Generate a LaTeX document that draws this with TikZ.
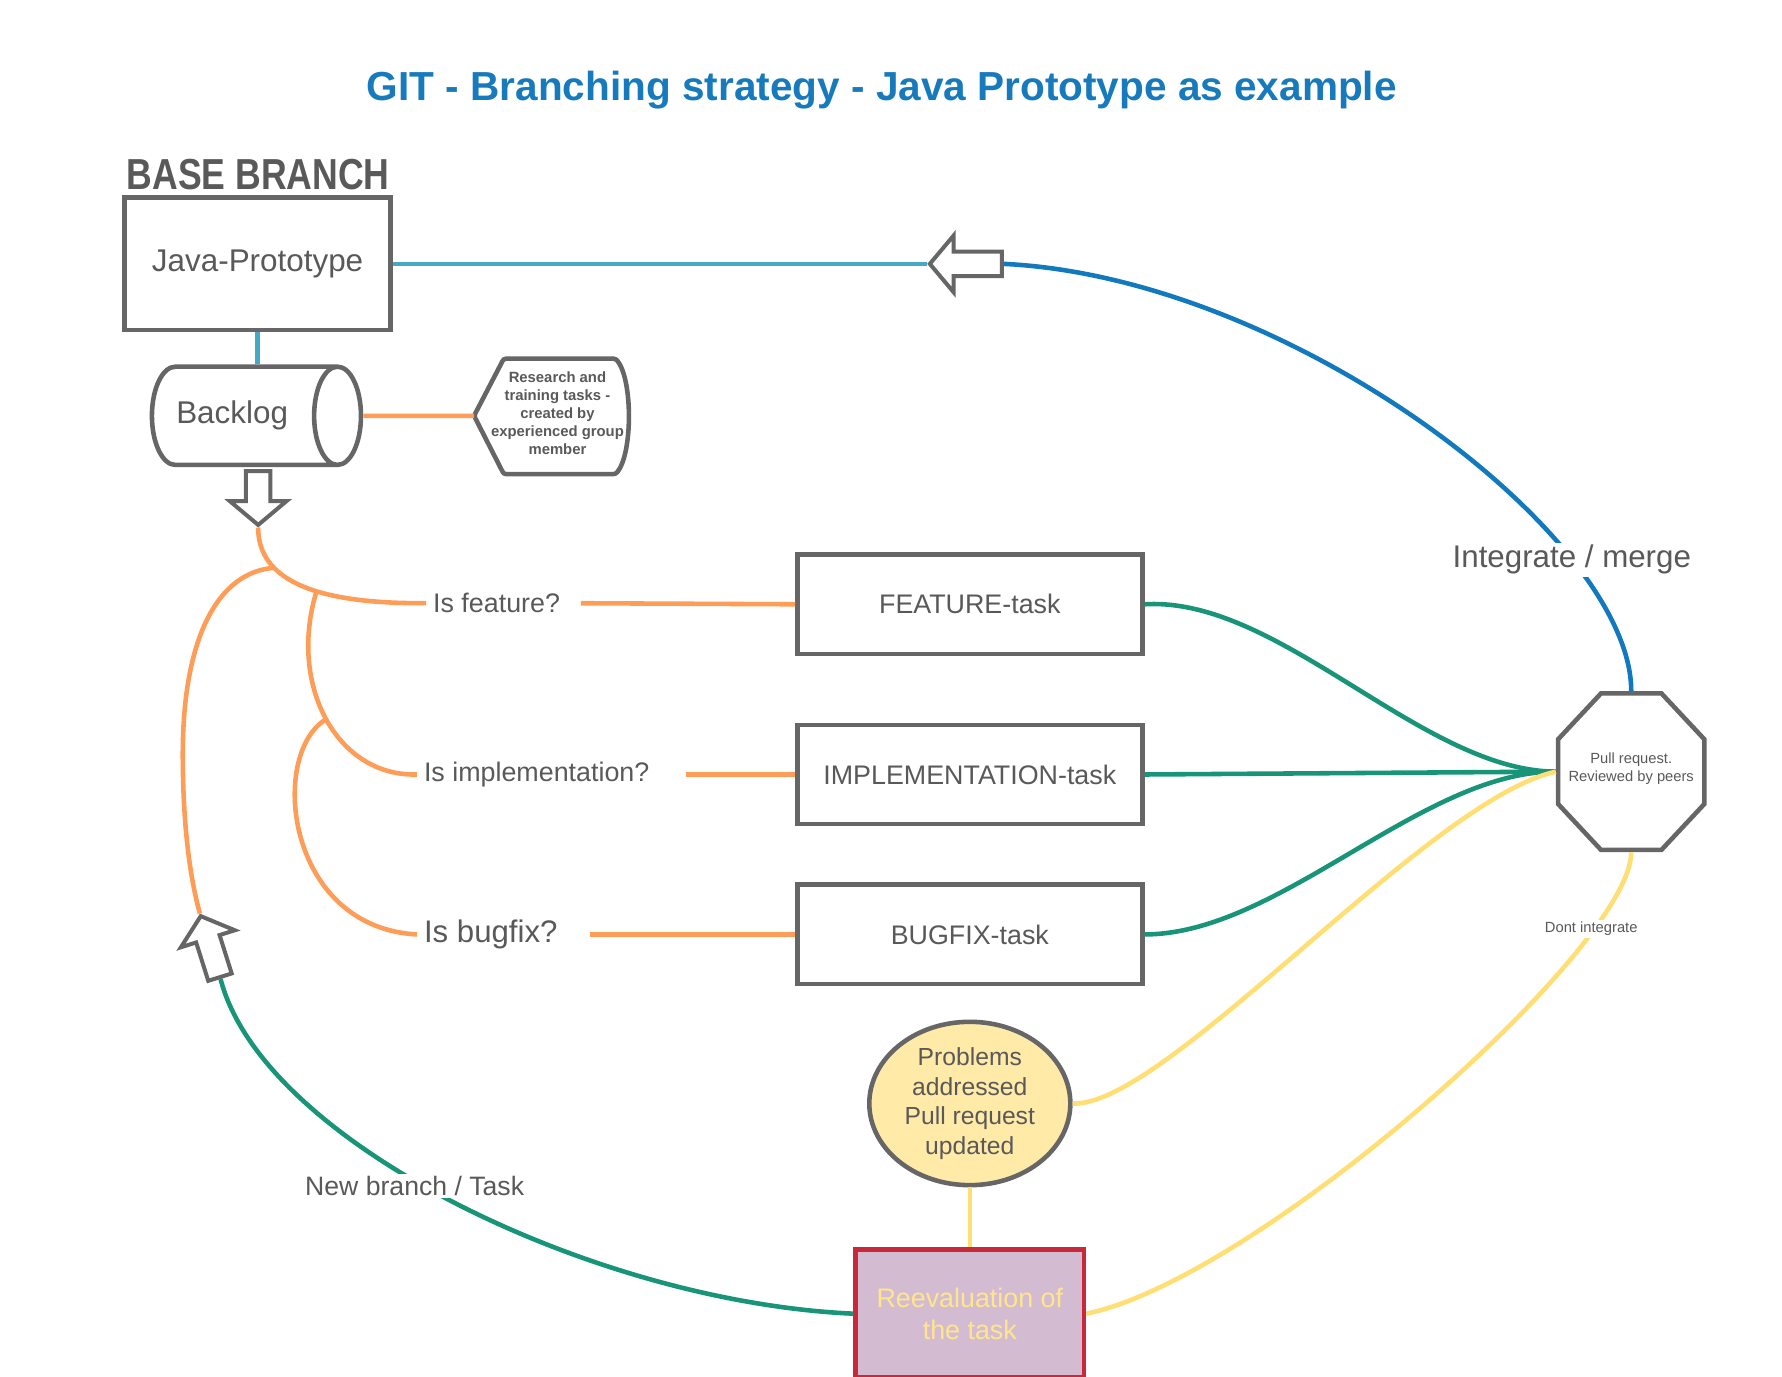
\documentclass[tikz,border=0pt]{standalone}
\usepackage{graphicx}
\usepackage{fontspec}
\setmainfont{Liberation Sans}
\usetikzlibrary{shapes.geometric,shapes.arrows}
\definecolor{titleblue}{RGB}{22,122,189}
\definecolor{mergeblue}{RGB}{19,121,190}
\definecolor{baseblue}{RGB}{68,168,198}
\definecolor{boxgray}{RGB}{102,102,102}
\definecolor{txtgray}{RGB}{89,89,89}
\definecolor{branchorange}{RGB}{253,157,87}
\definecolor{taskgreen}{RGB}{24,148,120}
\definecolor{rejectyellow}{RGB}{255,223,115}
\definecolor{updfill}{RGB}{255,234,168}
\definecolor{evalfill}{RGB}{211,188,210}
\definecolor{evalred}{RGB}{200,40,58}
\definecolor{evaltext}{RGB}{255,229,140}
\newcommand{\fsz}[2]{\fontsize{#1pt}{#2pt}\selectfont}

\begin{document}
\begin{tikzpicture}[x=1pt,y=-1pt,
	every node/.style={text=txtgray},
	taskbox/.style={draw=boxgray,line width=4pt,fill=white,minimum width=302pt,minimum height=87pt,font=\fsz{23.5}{28}},
	hollowarrow/.style={single arrow,draw=boxgray,line width=3.5pt,fill=white,inner sep=9pt,single arrow head extend=14pt,single arrow tip angle=100,minimum height=#1},
	lbl/.style={inner xsep=6pt,inner ysep=2pt,font=\fsz{23.5}{28}},
	blueline/.style={draw=baseblue,line width=4pt},
	mergeline/.style={draw=mergeblue,line width=4pt},
	orangeline/.style={draw=branchorange,line width=4pt},
	greenline/.style={draw=taskgreen,line width=4pt},
	yellowline/.style={draw=rejectyellow,line width=4pt}]
	\useasboundingbox (0,0) rectangle (1560,1205);
	\node[font=\bfseries\fsz{35.5}{40},text=titleblue] (title) at (772,79) {GIT - Branching strategy - Java Prototype as example};
	\node[font=\bfseries\fsz{38}{40}] (basehdr) at (226,153) {\scalebox{0.82}[1]{BASE BRANCH}};
	\node[draw=boxgray,line width=4pt,minimum width=233pt,minimum height=116pt,font=\fsz{27.5}{32}] (proto) at (225.5,231) {Java-Prototype};
	\node[cylinder,draw=boxgray,line width=4pt,aspect=1.6,minimum height=183pt,minimum width=86pt,inner sep=0pt,anchor=west,font=\fsz{27.5}{32}] (backlog) at (131,364) {\hspace*{-20pt}Backlog};
	\node[font=\bfseries\fsz{13}{15.7},align=center] (note) at (488,362) {Research and\\training tasks -\\created by\\experienced group\\member};
	\coordinate (notetip) at (415,364);
	\draw[draw=boxgray,line width=4pt,rounded corners=2pt] (notetip) -- (441,314) -- (539,314) .. controls (554,332) and (554,397) .. (539,415) -- (441,415) -- cycle;
	\node[hollowarrow=47pt,rotate=-90] (backdown) at (226,431.5) {};
	\node[hollowarrow=63pt,rotate=180] (mergearrow) at (850,231) {};
	\node[hollowarrow=56pt,rotate=107.5] (newarrow) at (185.5,833) {};
	\node[taskbox] (featTask) at (849,529) {FEATURE-task};
	\node[taskbox] (implTask) at (849,678) {IMPLEMENTATION-task};
	\node[taskbox] (bugTask) at (849,818) {BUGFIX-task};
	\node[regular polygon,regular polygon sides=8,draw=boxgray,line width=4pt,minimum size=138.5pt,yscale=1.07,inner sep=0pt] (review) at (1428,675.5) {};
	\node[align=center,font=\fsz{12.9}{16}] (reviewTxt) at (1428,673) {Pull request.\\Reviewed by peers};
	\node[ellipse,draw=boxgray,line width=4pt,fill=updfill,minimum width=176pt,minimum height=143pt,inner sep=0pt,align=center,font=\fsz{21.6}{26}] (problems) at (849,966) {Problems\\addressed\\Pull request\\updated};
	\node[draw=evalred,fill=evalfill,line width=4pt,minimum width=200pt,minimum height=112pt,align=center,text=evaltext,font=\fsz{23.5}{28}] (reeval) at (849,1150) {Reevaluation of\\the task};
	\node[lbl,anchor=west] (isFeat) at (373,528) {Is feature?};
	\node[lbl,anchor=west] (isImpl) at (365,678) {Is implementation?};
	\node[lbl,anchor=west,font=\fsz{27.3}{32}] (isBug) at (365,818) {Is bugfix?};
	\coordinate (forkA) at (241,497);
	\coordinate (forkB) at (277,518);
	\coordinate (forkC) at (285.5,629.6);
	\draw[blueline] (proto.east) -- (mergearrow.tip);
	\draw[blueline] (proto.south) -- (proto.south |- backlog.north);
	\draw[orangeline] (backlog.east) -- (notetip);
	\draw[orangeline] (backdown.tip) .. controls (226,500) and (260,529) .. (isFeat.west);
	\draw[orangeline] (forkA) .. controls (190,500) and (160,560) .. (160,660) .. controls (160,730) and (168,775) .. (newarrow.tip);
	\draw[orangeline] (forkB) .. controls (252,600) and (295,680) .. (isImpl.west);
	\draw[orangeline] (forkC) .. controls (235,660) and (250,812) .. (isBug.west);
	\draw[orangeline,shorten <=12pt] (isFeat.east) -- (featTask.west);
	\draw[orangeline,shorten <=26pt] (isImpl.east) -- (implTask.west);
	\draw[orangeline,shorten <=22pt] (isBug.east) -- (bugTask.west);
	\draw[greenline] (featTask.east) .. controls (1120,522) and (1245,675) .. (review.west);
	\draw[greenline] (implTask.east) -- (review.west);
	\draw[greenline] (bugTask.east) .. controls (1120,818) and (1245,675) .. (review.west);
	\draw[mergeline] (review.north) .. controls (1428,470) and (1130,243) .. (mergearrow.tail);
	\draw[yellowline] (review.west) .. controls (1250,700) and (1020,970) .. (problems.east);
	\draw[yellowline] (review.south) .. controls (1428,830) and (1100,1120) .. (reeval.east);
	\draw[yellowline] (problems.south) -- (reeval.north);
	\draw[greenline] (reeval.west) .. controls (520,1140) and (230,1000) .. (newarrow.tail);
	\node[lbl,fill=white,font=\fsz{27.4}{32}] (mergeLbl) at (1376,490) {Integrate / merge};
	\node[lbl,fill=white,font=\fsz{12.9}{16}] (dropLbl) at (1393,813) {Dont integrate};
	\node[lbl,fill=white,font=\fsz{23.3}{28}] (newLbl) at (363,1038) {New branch / Task};
\end{tikzpicture}
\end{document}
